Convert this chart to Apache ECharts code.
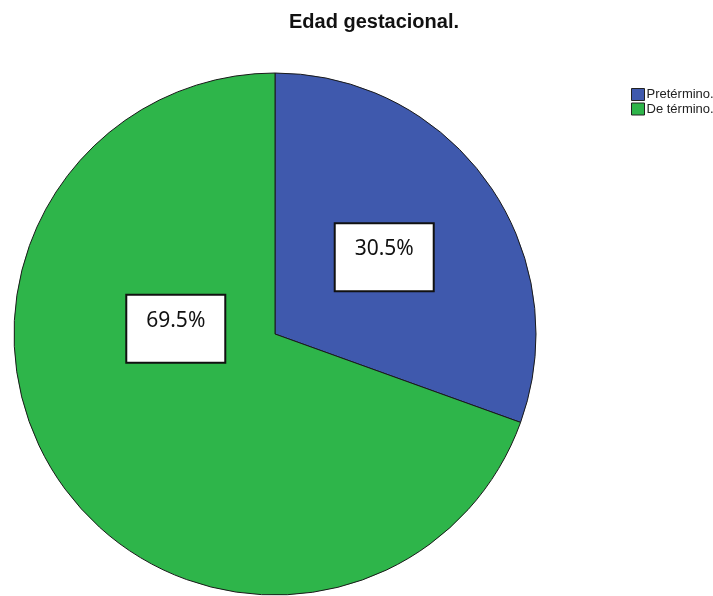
<!DOCTYPE html>
<html>
<head>
<meta charset="utf-8">
<script src="https://cdn.jsdelivr.net/npm/echarts@6/dist/echarts.min.js"></script>
<style>
  html, body { margin: 0; padding: 0; background: #fff; }
  #chart { width: 713px; height: 596px; }
</style>
</head>
<body>
<div id="chart"></div>
<script>
// Gestational age categories and their shares (%)
const categories = ['Pretérmino.', 'De término.'];
const percentages = [30.5, 69.5];
const sliceColors = ['#3F59AD', '#2EB54A'];

// The term-birth label sits up near the centre line rather than at the slice midpoint
const labelOffsets = [[0, 0], [10, -82]];

const chart = echarts.init(document.getElementById('chart'), null, { renderer: 'canvas' });

const pieData = categories.map((name, i) => ({
  name: name,
  value: percentages[i],
  itemStyle: { color: sliceColors[i] },
  label: { offset: labelOffsets[i] }
}));

chart.setOption({
  animation: false,
  backgroundColor: '#ffffff',
  title: {
    text: 'Edad gestacional.',
    left: 369,
    top: 7,
    textAlign: 'center',
    textStyle: {
      fontFamily: 'Liberation Sans',
      fontWeight: 'bold',
      fontSize: 20,
      color: '#111'
    }
  },
  legend: {
    orient: 'vertical',
    left: 626,
    top: 83,
    itemWidth: 13,
    itemHeight: 12,
    itemGap: 1.5,
    icon: 'rect',
    selectedMode: false,
    data: categories,
    itemStyle: { borderColor: '#222', borderWidth: 1 },
    textStyle: {
      fontFamily: 'Liberation Sans',
      fontSize: 13,
      color: '#222',
      padding: [0, 0, 0, -3]
    }
  },
  series: [{
    type: 'pie',
    center: [275, 334],
    radius: 261,
    startAngle: 90,
    clockwise: true,
    silent: true,
    itemStyle: { borderColor: '#1a1a1a', borderWidth: 1 },
    label: {
      show: true,
      position: 'inside',
      // value on the first line, an empty spacer line below it
      formatter: p => '{v|' + p.value.toFixed(1) + '%}\n{s|}',
      backgroundColor: '#ffffff',
      borderColor: '#111',
      borderWidth: 2,
      width: 97,
      align: 'center',
      padding: [12, 0, 8, 0],
      rich: {
        v: {
          fontFamily: 'Noto Sans',
          fontSize: 21,
          color: '#111',
          lineHeight: 26,
          align: 'center'
        },
        s: {
          height: 20,
          lineHeight: 20
        }
      }
    },
    labelLine: { show: false },
    emphasis: { disabled: true },
    data: pieData
  }]
});
</script>
</body>
</html>
